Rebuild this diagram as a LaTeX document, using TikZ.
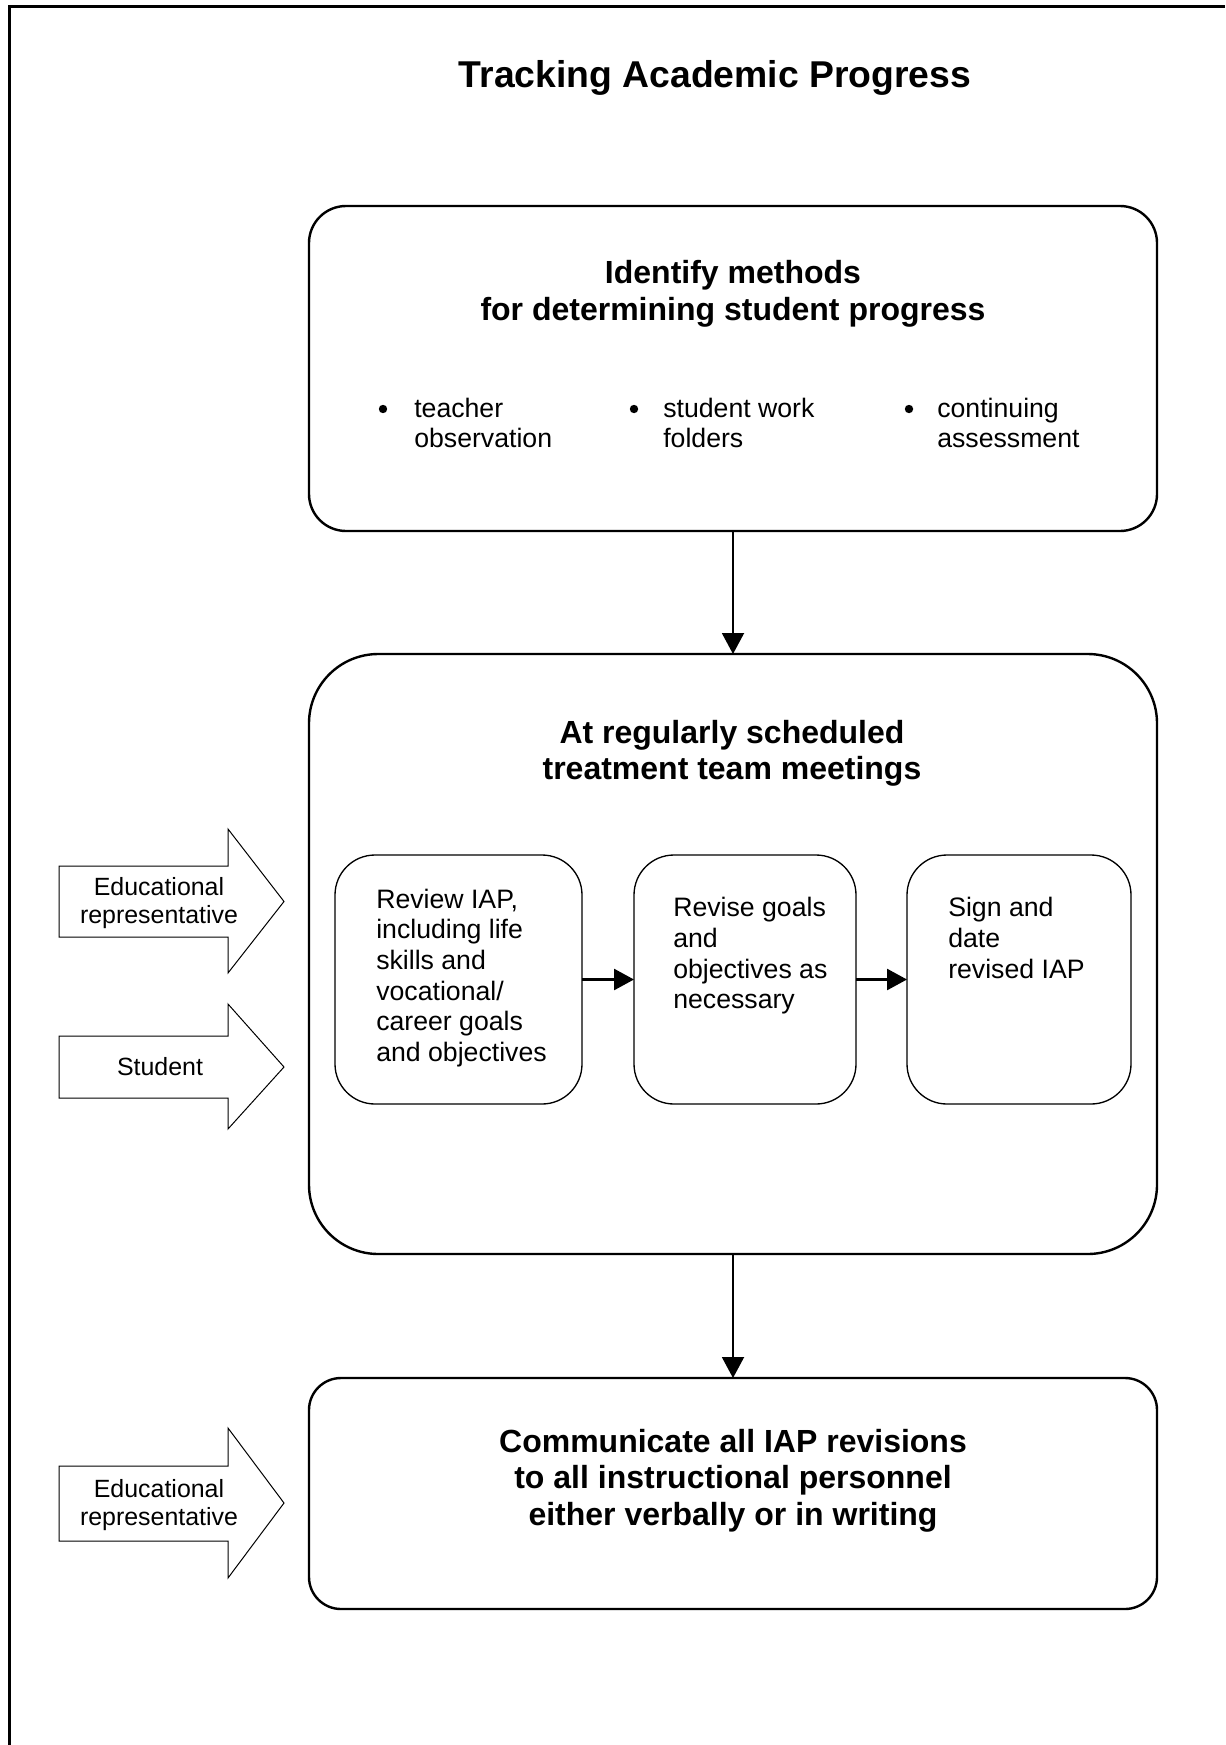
\documentclass[tikz,border=0pt]{standalone}
\usepackage{fontspec}
\setmainfont{Liberation Sans}
\usetikzlibrary{arrows.meta}
\begin{document}
\begin{tikzpicture}[x=0.75pt,y=-0.75pt,
  bigbox/.style={draw, line width=1.8pt, inner sep=0pt, outer sep=0pt, minimum width=636pt},
  smallbox/.style={draw, line width=1pt, rounded corners=30pt, inner sep=0pt, outer sep=0pt, minimum height=186.75pt},
  flow/.style={line width=1.5pt, -{Triangle[length=15.75pt,width=16.5pt]}},
  innerflow/.style={line width=2pt, -{Triangle[length=15pt,width=15.75pt]}},
  blockarrow/.style={draw, line width=0.75pt, line join=miter},
  heading/.style={font=\fontsize{24}{27.4}\selectfont\bfseries, align=center, inner sep=0pt},
  body/.style={font=\fontsize{20}{23}\selectfont, align=left, inner sep=0pt},
  side/.style={font=\fontsize{18.7}{21}\selectfont, align=center, inner sep=0pt},
  bullet/.style={circle, fill, inner sep=0pt, minimum size=6.3pt}
]
\useasboundingbox (0,0) rectangle (1225,1745);
% page frame (only top and left visible)
\draw[line width=2.25pt] (9,1745) -- (9,7) -- (1225,7);

% title
\node[font=\fontsize{28}{32}\selectfont\bfseries, inner sep=0pt] (title) at (715,78) {Tracking Academic Progress};

% box 1
\node[bigbox, rounded corners=27.75pt, minimum height=243.75pt] (box1) at (733,368.5) {};
\node[heading] (h1) at (733,294) {Identify methods\\for determining student progress};
\node[bullet] (b1dot) at (383,409) {};
\node[body, anchor=west] (b1) at (414,423) {teacher\\observation};
\node[bullet] (b2dot) at (634,409) {};
\node[body, anchor=west] (b2) at (663,423) {student work\\folders};
\node[bullet] (b3dot) at (909,409) {};
\node[body, anchor=west] (b3) at (937,423) {continuing\\assessment};

% box 2
\node[bigbox, rounded corners=52pt, minimum height=450pt] (box2) at (733,954) {};
\node[heading] (h2) at (732,753.5) {At regularly scheduled\\treatment team meetings};

\node[smallbox, minimum width=185.25pt] (revA) at (458.5,979.5) {};
\node[smallbox, minimum width=166.5pt] (revB) at (745,979.5) {};
\node[smallbox, minimum width=168pt] (revC) at (1019,979.5) {};
\node[body, anchor=west] (tA) at (376,978) {Review IAP,\\including life\\skills and\\vocational/\\career goals\\and objectives};
\node[body, anchor=west] (tB) at (673,956) {Revise goals\\and\\objectives as\\necessary};
\node[body, anchor=west] (tC) at (948,938) {Sign and\\date\\revised IAP};

% box 3
\node[bigbox, rounded corners=24pt, minimum height=173.25pt] (box3) at (733,1493.5) {};
\node[heading] (h3) at (733,1480.5) {Communicate all IAP revisions\\to all instructional personnel\\either verbally or in writing};

% connectors
\draw[flow] (box1.south) -- (box2.north);
\draw[flow] (box2.south) -- (box3.north);
\draw[innerflow] (revA.east) -- (revB.west);
\draw[innerflow] (revB.east) -- (revC.west);

% block arrows
\draw[blockarrow] (59,866) -- (228,866) -- (228,829) -- (284,901.5) -- (228,973) -- (228,937) -- (59,937) -- cycle;
\node[side] (s1) at (159,903) {Educational\\representative};
\draw[blockarrow] (59,1036) -- (228,1036) -- (228,1004) -- (284,1067) -- (228,1129) -- (228,1098) -- (59,1098) -- cycle;
\node[side] (s2) at (160,1067) {Student};
\draw[blockarrow] (59,1466) -- (228,1466) -- (228,1428) -- (284,1503) -- (228,1578) -- (228,1541) -- (59,1541) -- cycle;
\node[side] (s3) at (159,1505) {Educational\\representative};
\end{tikzpicture}
\end{document}
